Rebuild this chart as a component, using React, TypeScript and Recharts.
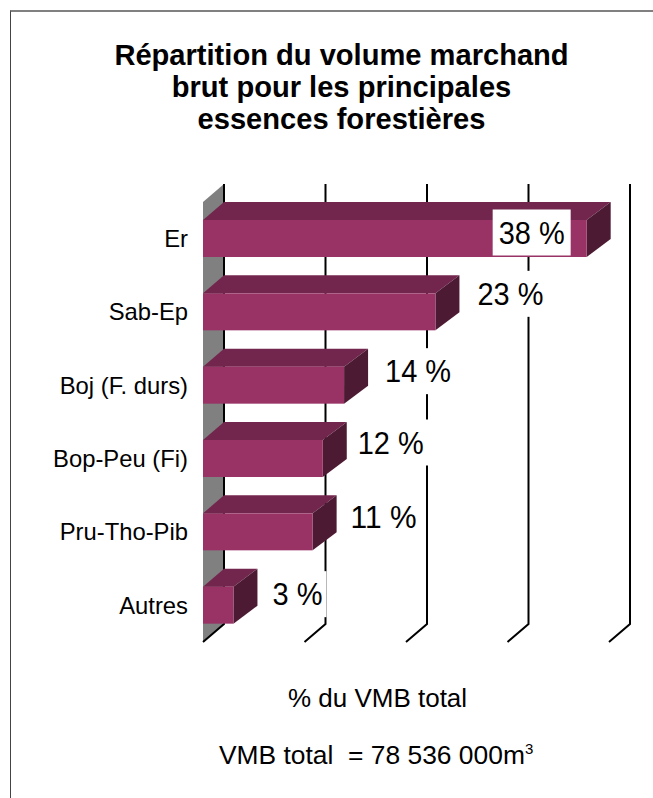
import { BarChart, Bar, XAxis, YAxis, CartesianGrid, LabelList } from 'recharts'

const categories = ['Er', 'Sab-Ep', 'Boj (F. durs)', 'Bop-Peu (Fi)', 'Pru-Tho-Pib', 'Autres']
const shares = [37.8, 22.9, 13.9, 11.8, 10.8, 3]
const axisTicks = [0, 10, 20, 30, 40]
const titleLines = ['Répartition du volume marchand', 'brut pour les principales', 'essences forestières']

const chartData = categories.map((name, i) => ({ name, share: shares[i] }))

// hand placed data labels, relative to the end of each bar
const labelNudges = [
  { dx: -55, dy: -6 },
  { dx: 75, dy: -18 },
  { dx: 74, dy: -14 },
  { dx: 68, dy: -16 },
  { dx: 71, dy: -15 },
  { dx: 64, dy: -11 },
]

const FONT = '"Liberation Sans", Arial, sans-serif'
const AXIS_MAX = axisTicks[axisTicks.length - 1]
const DEPTH_X = 21
const DEPTH_Y = 18

function BackLine({ x1, y1, y2, index }: any) {
  const x = x1
  const points = `${x},${y2} ${x + DEPTH_X},${y2 - DEPTH_Y} ${x + DEPTH_X},${y1 - DEPTH_Y}`
  return (
    <g>
      {index === 0 && (
        <polygon
          points={`${x},${y1} ${x + DEPTH_X},${y1 - DEPTH_Y} ${x + DEPTH_X},${y2 - DEPTH_Y} ${x},${y2}`}
          fill="#808080"
        />
      )}
      <polyline points={points} fill="none" stroke="#000" strokeWidth={2} />
    </g>
  )
}

function Box3D({ x, y, width, height }: any) {
  const right = x + width
  return (
    <g>
      <polygon
        points={`${x},${y} ${x + DEPTH_X},${y - DEPTH_Y} ${right + 24},${y - DEPTH_Y} ${right},${y}`}
        fill="#73264d"
      />
      <polygon
        points={`${right},${y} ${right + 24},${y - DEPTH_Y} ${right + 24},${y + height - DEPTH_Y} ${right},${y + height}`}
        fill="#4d1a33"
      />
      <rect x={x} y={y} width={width} height={height} fill="#993366" />
    </g>
  )
}

function ShareLabel({ x, y, width, height, value, index }: any) {
  const nudge = labelNudges[index]
  const cx = x + width + nudge.dx
  const cy = y + height / 2 + nudge.dy
  const small = value < 10
  const boxWidth = small ? 58 : 78
  return (
    <g>
      <rect x={cx - boxWidth / 2} y={cy - 23} width={boxWidth} height={46} fill="#fff" />
      <text
        x={cx}
        y={cy + 11}
        textAnchor="middle"
        fontFamily={FONT}
        fontSize={31}
        textLength={small ? 50 : 66}
        lengthAdjust="spacingAndGlyphs"
        fill="#000"
      >
        {Math.round(value)} %
      </text>
    </g>
  )
}

export default function App() {
  return (
    <div style={{ position: 'absolute', left: 0, top: 0, width: 653, height: 798, background: '#fff', overflow: 'hidden', fontFamily: FONT }}>
      {/* frame */}
      <div style={{ position: 'absolute', left: 10, top: 10, width: 660, height: 800, borderLeft: '1px solid #444', borderTop: '2px solid #808080' }} />

      <div style={{ position: 'absolute', left: 0, top: 39, width: 683, textAlign: 'center', fontSize: 29.1, fontWeight: 700, lineHeight: '32px', color: '#000' }}>
        {titleLines.map((line) => (
          <div key={line}>{line}</div>
        ))}
      </div>

      <BarChart
        style={{ position: 'absolute', left: 0, top: 0 }}
        width={653}
        height={798}
        layout="vertical"
        data={chartData}
        margin={{ top: 202, right: 44, bottom: 156, left: 0 }}
      >
        <CartesianGrid
          horizontal={false}
          verticalCoordinatesGenerator={({ offset }: any) =>
            axisTicks.map((t) => offset.left + (t / AXIS_MAX) * offset.width)
          }
          vertical={(props: any) => <BackLine key={props.index} {...props} />}
        />
        <XAxis type="number" domain={[0, AXIS_MAX]} ticks={axisTicks} interval={0} height={0} axisLine={false} tickLine={false} tick={false} />
        <YAxis
          type="category"
          dataKey="name"
          width={203}
          axisLine={false}
          tickLine={false}
          tickMargin={9}
          interval={0}
          tick={{ fontFamily: FONT, fontSize: 23.8, fill: '#000' }}
        />
        <Bar dataKey="share" barSize={37} shape={<Box3D />} isAnimationActive={false}>
          <LabelList dataKey="share" content={<ShareLabel />} />
        </Bar>
      </BarChart>

      <div style={{ position: 'absolute', left: 0, top: 683, width: 755, textAlign: 'center', fontSize: 26, lineHeight: '30px', color: '#000' }}>
        % du VMB total
      </div>
      <div style={{ position: 'absolute', left: 219, top: 740, whiteSpace: 'pre', fontSize: 26.4, lineHeight: '30px', color: '#000' }}>
        VMB total  = 78 536 000m<sup style={{ fontSize: 15, lineHeight: 0 }}>3</sup>
      </div>
    </div>
  )
}
